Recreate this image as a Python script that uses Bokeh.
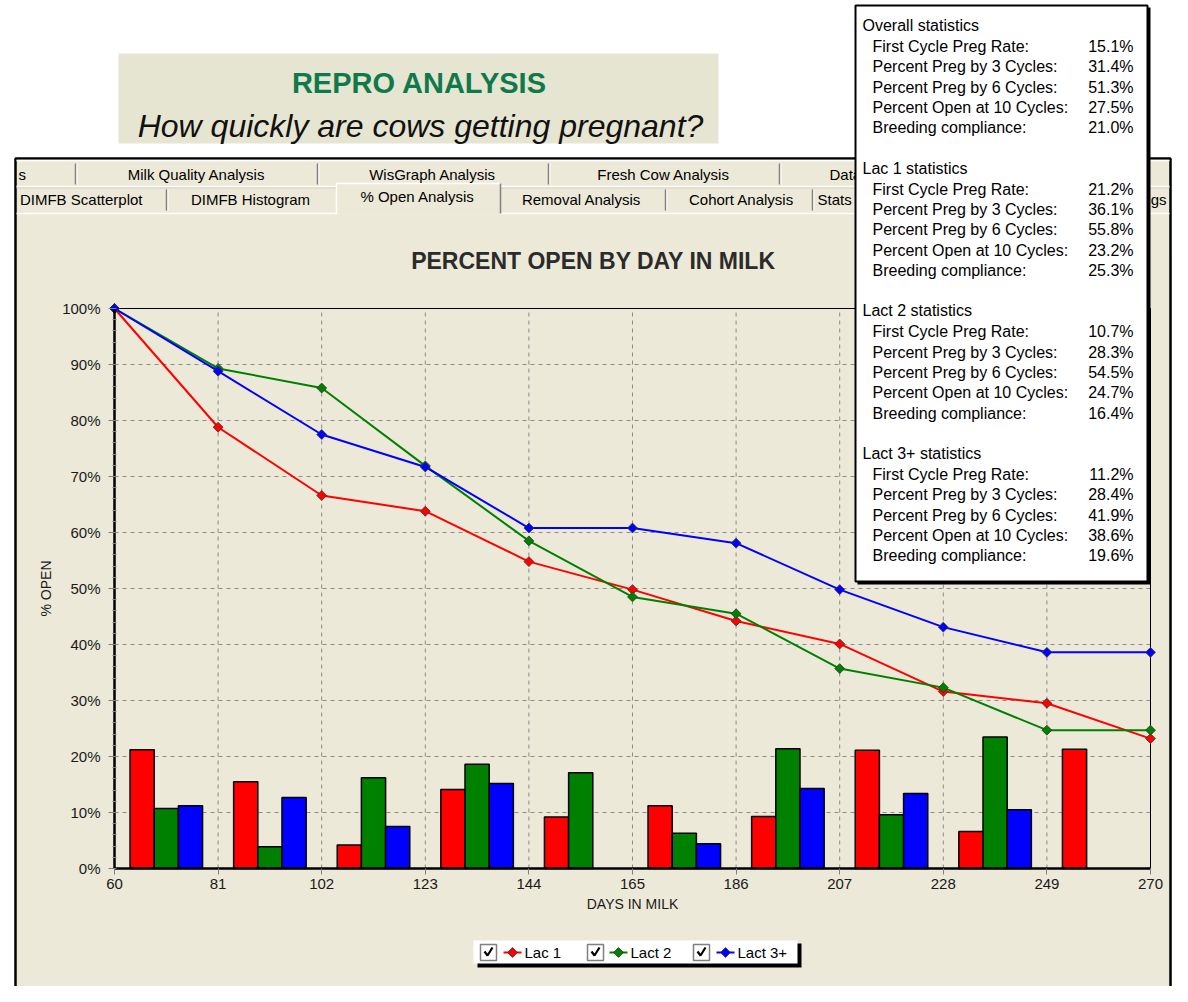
import math
from bokeh.plotting import figure
from bokeh.models import Range1d, LinearAxis, FixedTicker, PrintfTickFormatter
from bokeh.core.properties import value
from bokeh.embed import file_html
from bokeh.resources import INLINE

# ---------------- data ----------------
days = [60, 81, 102, 123, 144, 165, 186, 207, 228, 249, 270]
lac1_open = [100.0, 78.8, 66.6, 63.8, 54.8, 49.8, 44.2, 40.1, 31.6, 29.5, 23.2]
lact2_open = [100.0, 89.3, 85.8, 71.9, 58.5, 48.5, 45.5, 35.7, 32.3, 24.7, 24.7]
lact3_open = [100.0, 88.8, 77.5, 71.7, 60.8, 60.8, 58.1, 49.8, 43.1, 38.6, 38.6]

cycle_start = [60, 81, 102, 123, 144, 165, 186, 207, 228, 249]
lac1_preg = [21.2, 15.5, 4.2, 14.1, 9.2, 11.2, 9.3, 21.1, 6.6, 21.3]
lact2_preg = [10.7, 3.9, 16.2, 18.6, 17.1, 6.3, 21.4, 9.6, 23.5, 0.0]
lact3_preg = [11.2, 12.7, 7.5, 15.2, 0.0, 4.4, 14.3, 13.4, 10.5, 0.0]

y_ticks = [0, 10, 20, 30, 40, 50, 60, 70, 80, 90, 100]
series_names = ["Lac 1", "Lact 2", "Lact 3+"]
series_colors = ["#FF0000", "#008000", "#0000FF"]

stats_groups = ["Overall statistics", "Lac 1 statistics", "Lact 2 statistics", "Lact 3+ statistics"]
stats_labels = ["First Cycle Preg Rate:", "Percent Preg by 3 Cycles:", "Percent Preg by 6 Cycles:",
                "Percent Open at 10 Cycles:", "Breeding compliance:"]
overall_stats = [15.1, 31.4, 51.3, 27.5, 21.0]
lac1_stats = [21.2, 36.1, 55.8, 23.2, 25.3]
lact2_stats = [10.7, 28.3, 54.5, 24.7, 16.4]
lact3_stats = [11.2, 28.4, 41.9, 38.6, 19.6]

tabs_row1 = ["s", "Milk Quality Analysis", "WisGraph Analysis", "Fresh Cow Analysis", "Data Analysis"]
tabs_row2 = ["DIMFB Scatterplot", "DIMFB Histogram", "% Open Analysis", "Removal Analysis",
             "Cohort Analysis", "Stats", "Settings"]

# ---------------- geometry ----------------
W, H = 1172, 986
X0, X1 = 0, W          # canvas pixel extent
Y0, Y1 = 0, H
PL, PR, PT, PB = 114, 1150, 308, 868   # plot area in pixels
ppd = (PR - PL) / (days[-1] - days[0])
ppp = (PB - PT) / 100.0
x_start = days[0] - (PL - X0) / ppd
x_end = days[-1] + (X1 - PR) / ppd
y_end = 100 + (PT - Y0) / ppp
y_start = 0 - (Y1 - PB) / ppp

FONT = value("Liberation Sans")
BEIGE = "#ECE9D8"

p = figure(width=W, height=H, x_range=Range1d(x_start, x_end), y_range=Range1d(y_start, y_end),
           output_backend="svg", toolbar_location=None, min_border=0,
           x_axis_location=None, y_axis_location=None)
p.extra_x_ranges = {"px": Range1d(X0, X1)}
p.extra_y_ranges = {"px": Range1d(Y1, Y0)}
p.outline_line_color = None
p.background_fill_color = "white"
p.border_fill_color = "white"
p.xgrid.visible = False
p.ygrid.visible = False

PX = dict(x_range_name="px", y_range_name="px")

def ptext(x, y, t, size="15px", align="left", color="black", style="normal", angle=0.0, font=FONT):
    p.text(x=x, y=y, text=t, text_font=font, text_font_size=size, text_align=align,
           text_baseline="middle", text_color=color, text_font_style=style, angle=angle, **PX)

# ---------------- header box ----------------
p.quad(left=[118], right=[718], top=[53], bottom=[143], fill_color="#E6E5D1", line_color=None, **PX)
ptext([419], [82], ["REPRO ANALYSIS"], size="29px", align="center", color="#10794B", style="bold")
ptext([420], [125], ["How quickly are cows getting pregnant?"], size="32px", align="center",
      color="#111111", style="italic")

# ---------------- window + tabs ----------------
p.quad(left=[15], right=[1170], top=[158], bottom=[1010], fill_color=BEIGE,
       line_color="black", line_width=2.5, **PX)
p.segment(x0=[16, 16, 16], y0=[186, 213, 160], x1=[1169, 1169, 1169], y1=[186, 213, 160],
          line_color="white", line_width=1.5, **PX)
p.segment(x0=[16], y0=[187.5], x1=[1169], y1=[187.5], line_color="#D4D0C0", line_width=1, **PX)
sep1 = [75, 317, 548, 779]
sep2 = [166, 665, 812]
p.segment(x0=sep1, y0=[163] * 4, x1=sep1, y1=[184] * 4, line_color="#808080", line_width=1.5, **PX)
p.segment(x0=[s + 1.5 for s in sep1], y0=[163] * 4, x1=[s + 1.5 for s in sep1], y1=[184] * 4,
          line_color="white", line_width=1, **PX)
p.segment(x0=sep2, y0=[189] * 3, x1=sep2, y1=[210] * 3, line_color="#808080", line_width=1.5, **PX)
p.segment(x0=[s + 1.5 for s in sep2], y0=[189] * 3, x1=[s + 1.5 for s in sep2], y1=[210] * 3,
          line_color="white", line_width=1, **PX)
# selected tab
p.quad(left=[336], right=[500], top=[183], bottom=[214], fill_color=BEIGE, line_color=None, **PX)
p.line(x=[336, 336, 500], y=[214, 183, 183], line_color="white", line_width=1.5, **PX)
p.line(x=[500, 500], y=[183, 213], line_color="#808080", line_width=1.5, **PX)

ptext([18], [174], [tabs_row1[0]], align="left")
ptext([196, 432, 663], [174] * 3, tabs_row1[1:4], align="center")
ptext([829], [174], [tabs_row1[4]], align="left")
ptext([142], [199], [tabs_row2[0]], align="right")
ptext([250], [199], [tabs_row2[1]], align="center")
ptext([417], [196], [tabs_row2[2]], align="center")
ptext([581, 741], [199] * 2, tabs_row2[3:5], align="center")
ptext([817], [199], [tabs_row2[5]], align="left")
ptext([1166], [199], [tabs_row2[6]], align="right")

# ---------------- chart ----------------
ptext([593], [260], ["PERCENT OPEN BY DAY IN MILK"], size="23px", align="center", color="#2b2b2b",
      style="bold")

gx = days[1:-1]
p.segment(x0=gx, y0=[0] * len(gx), x1=gx, y1=[100] * len(gx), line_color="#8C8C8C",
          line_dash="4 4", line_width=1)
gy = y_ticks[1:-1]
p.segment(x0=[days[0]] * len(gy), y0=gy, x1=[days[-1]] * len(gy), y1=gy, line_color="#8C8C8C",
          line_dash="4 4", line_width=1)
p.segment(x0=[days[0], days[-1]], y0=[100, 0], x1=[days[-1], days[-1]], y1=[100, 100],
          line_color="black", line_width=1)

bw = 4.9
for k, (vals, col) in enumerate(zip([lac1_preg, lact2_preg, lact3_preg], series_colors)):
    xs = [c + 10.5 + (k - 1) * bw for c, v in zip(cycle_start, vals) if v > 0]
    ts = [v for v in vals if v > 0]
    p.vbar(x=xs, top=ts, bottom=0, width=bw, fill_color=col, line_color="black", line_width=1.5)

for vals, col in zip([lac1_open, lact2_open, lact3_open], series_colors):
    p.line(x=days, y=vals, line_color=col, line_width=2)
    p.scatter(x=days, y=vals, marker="square", angle=math.pi / 4, size=7, fill_color=col,
              line_color="#333333", line_width=0.8)

xaxis = LinearAxis(fixed_location=0, bounds=(days[0], days[-1]),
                   ticker=FixedTicker(ticks=days, minor_ticks=[]))
xaxis.axis_line_width = 2.5
xaxis.axis_line_color = "black"
xaxis.major_tick_out = 6
xaxis.major_tick_in = 0
xaxis.major_tick_line_color = "#808080"
xaxis.major_label_standoff = 4
xaxis.major_label_text_font = "Liberation Sans"
xaxis.major_label_text_font_size = "15px"
xaxis.major_label_text_color = "#1a1a1a"
p.add_layout(xaxis, "below")

yaxis = LinearAxis(fixed_location=days[0], bounds=(0, 100),
                   ticker=FixedTicker(ticks=y_ticks, minor_ticks=list(range(0, 101, 2))),
                   formatter=PrintfTickFormatter(format="%d%%"))
yaxis.axis_line_width = 2.5
yaxis.axis_line_color = "black"
yaxis.major_tick_out = 6
yaxis.major_tick_in = 0
yaxis.major_tick_line_color = "#808080"
yaxis.minor_tick_out = 2
yaxis.minor_tick_in = 2
yaxis.minor_tick_line_color = "#808080"
yaxis.major_label_standoff = 8
yaxis.major_label_text_font = "Liberation Sans"
yaxis.major_label_text_font_size = "15px"
yaxis.major_label_text_color = "#1a1a1a"
p.add_layout(yaxis, "left")

ptext([632], [903], ["DAYS IN MILK"], size="14px", align="center", color="#1a1a1a")
ptext([45], [588], ["% OPEN"], size="14px", align="center", color="#1a1a1a", angle=math.pi / 2)

# ---------------- legend ----------------
p.quad(left=[477], right=[801], top=[943], bottom=[967], fill_color="black", line_color=None, **PX)
p.quad(left=[473], right=[797], top=[940], bottom=[963], fill_color="white", line_color=None, **PX)
cb_x = [488, 595, 701]
line_x = [512, 618, 725]
txt_x = [524, 630, 737]
p.quad(left=[c - 8 for c in cb_x], right=[c + 8 for c in cb_x], top=[944] * 3, bottom=[960] * 3,
       fill_color="white", line_color="#808080", line_width=1.5, **PX)
p.multi_line(xs=[[c - 4, c - 1, c + 4] for c in cb_x], ys=[[951, 955, 947]] * 3,
             line_color="black", line_width=2.2, **PX)
for lx, col in zip(line_x, series_colors):
    p.line(x=[lx - 9, lx + 9], y=[952, 952], line_color=col, line_width=2, **PX)
p.scatter(x=line_x, y=[952] * 3, marker="square", angle=math.pi / 4, size=7, fill_color=series_colors,
          line_color="#333333", line_width=0.8, **PX)
ptext(txt_x, [952] * 3, series_names, size="15px", align="left")

# ---------------- statistics box ----------------
p.quad(left=[857], right=[1150], top=[7], bottom=[584], fill_color="black", line_color=None, **PX)
p.quad(left=[855], right=[1147], top=[5], bottom=[581], fill_color="white", line_color="black",
       line_width=2, **PX)
for g, (name, vals) in enumerate(zip(stats_groups, [overall_stats, lac1_stats, lact2_stats, lact3_stats])):
    hy = 25 + 142.7 * g
    ptext([862], [hy], [name], size="16px", align="left")
    iy = [hy + 21 + 20.3 * i for i in range(len(stats_labels))]
    ptext([872] * len(stats_labels), iy, stats_labels, size="16px", align="left")
    ptext([1133] * len(vals), iy, ["%.1f%%" % v for v in vals], size="16px", align="right")

open("out.html", "w").write(file_html(p, INLINE))
